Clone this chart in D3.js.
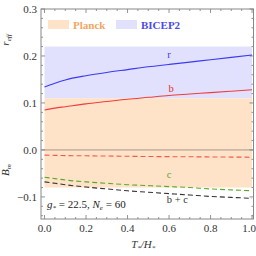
<!DOCTYPE html>
<html>
<head>
<meta charset="utf-8">
<script src="https://cdn.jsdelivr.net/npm/d3@7"></script>
<style>
  body { margin: 0; background: #fff; }
  text { font-family: "Liberation Serif", "DejaVu Serif", serif; }
</style>
</head>
<body>
<div id="chart"></div>
<script>
// x values (T*/H*)
var xs = [0, 0.05, 0.1, 0.2, 0.3, 0.4, 0.5, 0.6, 0.7, 0.8, 0.9, 1.0];
// r_eff curves
var rTotal = [0.134, 0.142, 0.149, 0.158, 0.165, 0.171, 0.177, 0.182, 0.187, 0.192, 0.197, 0.202];
var rB = [0.085, 0.089, 0.092, 0.098, 0.103, 0.108, 0.112, 0.116, 0.119, 0.122, 0.125, 0.128];
// B_m curves
var bmB = [-0.011, -0.0115, -0.012, -0.0125, -0.013, -0.0135, -0.014, -0.0143, -0.0146, -0.0149, -0.0152, -0.0155];
var bmC = [-0.058, -0.061, -0.064, -0.068, -0.071, -0.074, -0.076, -0.078, -0.080, -0.083, -0.085, -0.087];
var bmBC = [-0.068, -0.071, -0.074, -0.079, -0.083, -0.087, -0.090, -0.093, -0.096, -0.099, -0.101, -0.103];
// bands
var planckBand = [-0.08, 0.11];
var bicepBand = [0.11, 0.22];
var xTicks = [0, 0.2, 0.4, 0.6, 0.8, 1.0];
var yTicks = [-0.1, 0, 0.1, 0.2, 0.3];

var W = 256, H = 256;
var margin = { top: 9, right: 2.5, bottom: 37, left: 41 };
var width = W - margin.left - margin.right;
var height = H - margin.top - margin.bottom;

var svg = d3.select("#chart").append("svg")
  .attr("width", W).attr("height", H)
  .append("g")
  .attr("transform", "translate(" + margin.left + "," + margin.top + ")");

var x = d3.scaleLinear().domain([-0.017, 1.007]).range([0, width]);
var y = d3.scaleLinear().domain([-0.147, 0.3]).range([height, 0]);

// shaded bands
svg.append("rect")
  .attr("x", x(0)).attr("width", x(1) - x(0))
  .attr("y", y(bicepBand[1])).attr("height", y(bicepBand[0]) - y(bicepBand[1]))
  .attr("fill", "#e1e1fd");
svg.append("rect")
  .attr("x", x(0)).attr("width", x(1) - x(0))
  .attr("y", y(planckBand[1])).attr("height", y(planckBand[0]) - y(planckBand[1]))
  .attr("fill", "#ffe3c9");

// zero line
svg.append("line")
  .attr("x1", 0).attr("x2", width)
  .attr("y1", y(0)).attr("y2", y(0))
  .attr("stroke", "#a89484").attr("stroke-width", 1);

// ticks on all four sides, pointing inward
var xMinor = d3.range(0, 1.0001, 0.05);
var yMinor = d3.range(-0.14, 0.3001, 0.02);
function isMajor(v, step) { return Math.abs(v / step - Math.round(v / step)) < 1e-6; }

var ticksG = svg.append("g").attr("stroke", "#777").attr("stroke-width", 0.8);
xMinor.forEach(function (v) {
  var len = isMajor(v, 0.2) ? 4 : 2;
  ticksG.append("line").attr("x1", x(v)).attr("x2", x(v)).attr("y1", height).attr("y2", height - len);
  ticksG.append("line").attr("x1", x(v)).attr("x2", x(v)).attr("y1", 0).attr("y2", len);
});
yMinor.forEach(function (v) {
  var len = isMajor(v, 0.1) ? 4 : 2;
  ticksG.append("line").attr("x1", 0).attr("x2", len).attr("y1", y(v)).attr("y2", y(v));
  ticksG.append("line").attr("x1", width).attr("x2", width - len).attr("y1", y(v)).attr("y2", y(v));
});

// frame
svg.append("rect")
  .attr("width", width).attr("height", height)
  .attr("fill", "none").attr("stroke", "#888").attr("stroke-width", 1);

// tick labels (last one nudged so it stays inside the page)
svg.selectAll(".xl").data(xTicks).enter().append("text")
  .attr("x", d => Math.min(x(d), width - 4.5)).attr("y", height + 13)
  .attr("text-anchor", "middle").attr("font-size", 11).attr("fill", "#333")
  .text(d => d3.format(".1f")(d));
svg.selectAll(".yl").data(yTicks).enter().append("text")
  .attr("x", -4).attr("y", d => y(d) + 4)
  .attr("text-anchor", "end").attr("font-size", 11).attr("fill", "#333")
  .text(d => d < 0 ? "\u2212" + d3.format(".1f")(-d) : d3.format(".1f")(d));

// curves
var line = d3.line()
  .x(function (d, i) { return x(xs[i]); })
  .y(function (d) { return y(d); })
  .curve(d3.curveMonotoneX);

var series = [
  { vals: rTotal, color: "#3a3af0", dash: null },
  { vals: rB, color: "#f03c3c", dash: null },
  { vals: bmB, color: "#f05a4a", dash: "5,3" },
  { vals: bmC, color: "#5aaa28", dash: "5,3" },
  { vals: bmBC, color: "#333", dash: "5,3" }
];
series.forEach(function (s) {
  svg.append("path")
    .attr("d", line(s.vals))
    .attr("fill", "none")
    .attr("stroke", s.color)
    .attr("stroke-width", 1.1)
    .attr("stroke-dasharray", s.dash);
});

// curve labels
var curveLabels = [
  { t: "r", xv: 0.6, yv: 0.196, c: "#3a3af0" },
  { t: "b", xv: 0.61, yv: 0.124, c: "#e03030" },
  { t: "c", xv: 0.6, yv: -0.059, c: "#5aaa28" },
  { t: "b + c", xv: 0.64, yv: -0.112, c: "#333" }
];
curveLabels.forEach(function (l) {
  svg.append("text")
    .attr("x", x(l.xv)).attr("y", y(l.yv))
    .attr("text-anchor", "middle").attr("font-size", 10.5).attr("fill", l.c)
    .text(l.t);
});

// legend
var legend = [
  { t: "Planck", fill: "#ffe3c9", c: "#f5a660", lx: 7 },
  { t: "BICEP2", fill: "#e1e1fd", c: "#4a4ae8", lx: 75 }
];
legend.forEach(function (l) {
  svg.append("rect").attr("x", l.lx).attr("y", 11).attr("width", 21).attr("height", 9).attr("fill", l.fill);
  svg.append("text").attr("x", l.lx + 25).attr("y", 19.5)
    .attr("font-size", 11).attr("font-weight", "bold").attr("fill", l.c).text(l.t);
});

// parameters note
var note = svg.append("text").attr("x", 6).attr("y", 199)
  .attr("font-size", 11).attr("fill", "#222").attr("font-style", "italic");
note.append("tspan").text("g");
note.append("tspan").attr("font-size", 7).attr("dy", 2).text("*");
note.append("tspan").attr("dy", -2).attr("font-style", "normal").text(" = 22.5, ");
note.append("tspan").text("N");
note.append("tspan").attr("font-size", 7).attr("dy", 2).text("e");
note.append("tspan").attr("dy", -2).attr("font-style", "normal").text(" = 60");

// axis titles
var xt = svg.append("text").attr("x", width / 2 - 4).attr("y", height + 29)
  .attr("text-anchor", "middle").attr("font-size", 11).attr("font-style", "italic").attr("fill", "#333");
xt.append("tspan").text("T");
xt.append("tspan").attr("font-size", 7).attr("dy", 2).text("*");
xt.append("tspan").attr("dy", -2).text("/H");
xt.append("tspan").attr("font-size", 7).attr("dy", 2).text("*");

var yt1 = svg.append("text")
  .attr("transform", "translate(-32," + 31 + ") rotate(-90)")
  .attr("text-anchor", "middle").attr("font-size", 11).attr("font-style", "italic").attr("fill", "#333");
yt1.append("tspan").text("r");
yt1.append("tspan").attr("font-size", 7).attr("dy", 2).text("eff");

var yt2 = svg.append("text")
  .attr("transform", "translate(-32," + 161 + ") rotate(-90)")
  .attr("text-anchor", "middle").attr("font-size", 11).attr("font-style", "italic").attr("fill", "#333");
yt2.append("tspan").text("B");
yt2.append("tspan").attr("font-size", 7).attr("dy", 2).text("m");
</script>
</body>
</html>
